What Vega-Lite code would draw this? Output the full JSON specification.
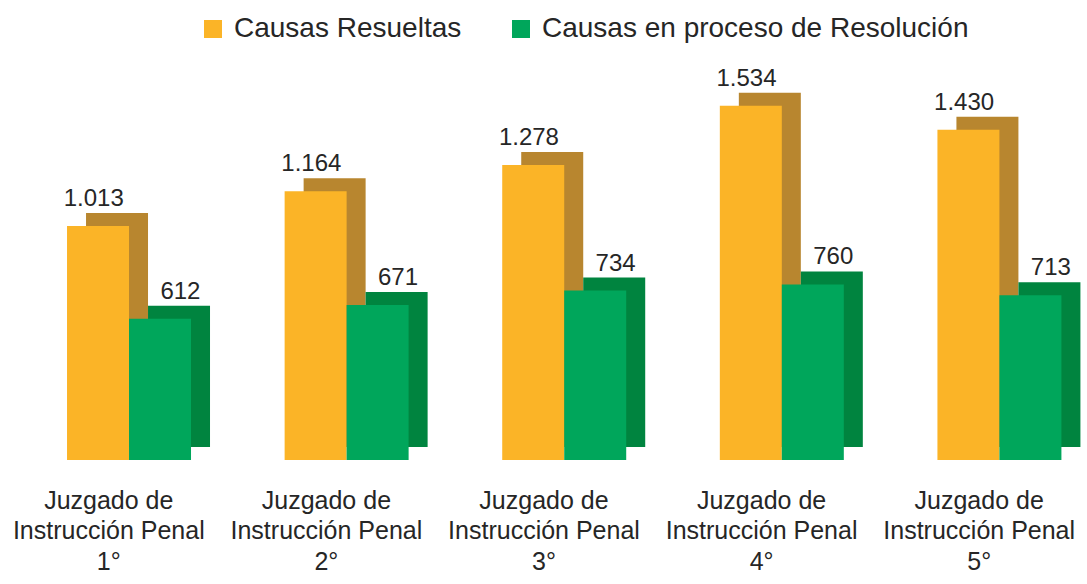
{
  "$schema": "https://vega.github.io/schema/vega-lite/v6.json",
  "width": 1088,
  "height": 460,
  "autosize": {"type": "none"},
  "padding": {"left": 0, "top": 0, "right": 0, "bottom": 124},
  "background": "white",
  "data": {
    "values": [
      {"juzgado": "Juzgado de|Instrucción Penal|1°", "serie": "Causas Resueltas", "valor": 1013},
      {"juzgado": "Juzgado de|Instrucción Penal|1°", "serie": "Causas en proceso de Resolución", "valor": 612},
      {"juzgado": "Juzgado de|Instrucción Penal|2°", "serie": "Causas Resueltas", "valor": 1164},
      {"juzgado": "Juzgado de|Instrucción Penal|2°", "serie": "Causas en proceso de Resolución", "valor": 671},
      {"juzgado": "Juzgado de|Instrucción Penal|3°", "serie": "Causas Resueltas", "valor": 1278},
      {"juzgado": "Juzgado de|Instrucción Penal|3°", "serie": "Causas en proceso de Resolución", "valor": 734},
      {"juzgado": "Juzgado de|Instrucción Penal|4°", "serie": "Causas Resueltas", "valor": 1534},
      {"juzgado": "Juzgado de|Instrucción Penal|4°", "serie": "Causas en proceso de Resolución", "valor": 760},
      {"juzgado": "Juzgado de|Instrucción Penal|5°", "serie": "Causas Resueltas", "valor": 1430},
      {"juzgado": "Juzgado de|Instrucción Penal|5°", "serie": "Causas en proceso de Resolución", "valor": 713}
    ]
  },
  "encoding": {
    "x": {
      "field": "juzgado",
      "type": "nominal",
      "sort": null,
      "scale": {"paddingInner": 0, "paddingOuter": 0},
      "axis": {
        "title": null,
        "domain": false,
        "ticks": false,
        "labelAngle": 0,
        "labelExpr": "split(datum.label, '|')",
        "labelFont": "Liberation Sans",
        "labelFontSize": 25,
        "labelLineHeight": 30.5,
        "labelColor": "#262626",
        "labelPadding": 28,
        "labelBaseline": "top",
        "labelLimit": 400
      }
    },
    "y": {
      "field": "valor",
      "type": "quantitative",
      "scale": {"domain": [0, 1992], "nice": false},
      "axis": null
    }
  },
  "layer": [
    {
      "mark": {"type": "bar", "yOffset": -13, "y2Offset": -13},
      "encoding": {
        "xOffset": {
          "field": "serie",
          "type": "nominal",
          "sort": ["Causas Resueltas", "Causas en proceso de Resolución"],
          "scale": {"paddingInner": 0, "paddingOuter": 0.755, "align": 0.919}
        },
        "color": {
          "condition": {"test": "datum.serie === 'Causas Resueltas'", "value": "#B8862F"},
          "value": "#00843F"
        }
      }
    },
    {
      "mark": {"type": "bar"},
      "encoding": {
        "xOffset": {
          "field": "serie",
          "type": "nominal",
          "sort": ["Causas Resueltas", "Causas en proceso de Resolución"],
          "scale": {"paddingInner": 0, "paddingOuter": 0.755, "align": 0.716}
        },
        "color": {
          "field": "serie",
          "type": "nominal",
          "sort": ["Causas Resueltas", "Causas en proceso de Resolución"],
          "scale": {
            "domain": ["Causas Resueltas", "Causas en proceso de Resolución"],
            "range": ["#FBB427", "#00A65B"]
          },
          "legend": {
            "title": null,
            "orient": "none",
            "legendX": 199,
            "legendY": 15,
            "direction": "horizontal",
            "symbolType": "square",
            "symbolSize": 324,
            "symbolStrokeWidth": 0,
            "labelFont": "Liberation Sans",
            "labelFontSize": 28,
            "labelColor": "#262626",
            "labelLimit": 500,
            "columnPadding": 45,
            "labelOffset": 7
          }
        }
      }
    },
    {
      "mark": {"type": "text", "font": "Liberation Sans", "fontSize": 24, "color": "#262626", "baseline": "alphabetic", "dy": -20},
      "encoding": {
        "xOffset": {
          "field": "serie",
          "type": "nominal",
          "sort": ["Causas Resueltas", "Causas en proceso de Resolución"],
          "scale": {"paddingInner": 0, "paddingOuter": 0.755, "align": 0.716}
        },
        "text": {"field": "valor", "type": "quantitative", "format": ",d"}
      }
    }
  ],
  "resolve": {"scale": {"xOffset": "independent"}},
  "config": {
    "view": {"stroke": null},
    "locale": {
      "number": {"decimal": ",", "thousands": ".", "grouping": [3], "currency": ["$", ""]}
    }
  }
}
